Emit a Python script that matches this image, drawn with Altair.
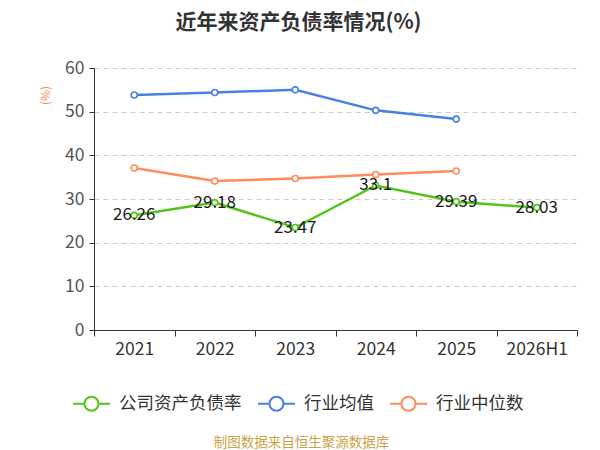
import altair as alt
import pandas as pd

years = ["2021", "2022", "2023", "2024", "2025", "2026H1"]
company = [26.26, 29.18, 23.47, 33.1, 29.39, 28.03]
ind_mean = [53.8, 54.4, 55.0, 50.3, 48.3, None]
ind_median = [37.1, 34.1, 34.7, 35.6, 36.4, None]

series_names = ["公司资产负债率", "行业均值", "行业中位数"]
series_colors = ["#52c41a", "#4a7fe3", "#ff8c5a"]

rows = []
for name, vals in zip(series_names, [company, ind_mean, ind_median]):
    for y, v in zip(years, vals):
        if v is not None:
            rows.append({"year": y, "value": v, "series": name})
df = pd.DataFrame(rows)
df_company = df[df["series"] == series_names[0]].copy()
df_company["label"] = [f"{v:g}" for v in df_company["value"]]

FONT = "Noto Sans CJK SC"
sym_path = ("M-1,0L-0.38,0M0.38,0A0.38,0.38,0,1,1,-0.38,0"
            "A0.38,0.38,0,1,1,0.38,0M0.38,0L1,0")

x_enc = alt.X(
    "year:N",
    sort=years,
    scale=alt.Scale(type="band", domain=years, paddingInner=0, paddingOuter=0),
    axis=alt.Axis(
        title="制图数据来自恒生聚源数据库",
        titleColor="#c9a24a",
        titleFontSize=13.5,
        titleFontWeight="normal",
        titleFont=FONT,
        titleX=207,
        titleY=112,
        titleAlign="center",
        titleBaseline="middle",
        labelAngle=0,
        labelFontSize=17.5,
        labelColor="#333333",
        labelFont=FONT,
        labelPadding=4,
        tickBand="extent",
        tickSize=6,
        tickColor="#333333",
        domainColor="#333333",
        grid=False,
    ),
)
y_enc = alt.Y(
    "value:Q",
    scale=alt.Scale(domain=[0, 60], nice=False),
    axis=alt.Axis(
        title="(%)",
        titleColor="#ff8c5a",
        titleFontSize=12,
        titleFontWeight="normal",
        titleFont=FONT,
        titleX=-49,
        titleY=27,
        titleAlign="center",
        titleBaseline="middle",
        values=[0, 10, 20, 30, 40, 50, 60],
        labelFontSize=17.5,
        labelColor="#555555",
        labelFont=FONT,
        labelPadding=5,
        tickSize=5,
        tickColor="#333333",
        domainColor="#333333",
        grid=True,
        gridDash=[5, 4],
        gridColor="#cccccc",
    ),
)
color_enc = alt.Color(
    "series:N",
    scale=alt.Scale(domain=series_names, range=series_colors),
    legend=alt.Legend(
        title=None,
        orient="none",
        direction="horizontal",
        legendX=-22,
        legendY=316,
        columns=3,
        symbolType=sym_path,
        symbolSize=1369,
        symbolStrokeWidth=2,
        symbolFillColor="white",
        labelFontSize=17.5,
        labelColor="#333333",
        labelFont=FONT,
        labelOffset=8,
        columnPadding=12,
    ),
)

lines = alt.Chart(df).mark_line(strokeWidth=2.5).encode(
    x=x_enc, y=y_enc, color=color_enc
)
points = alt.Chart(df).mark_point(
    filled=True, fill="white", size=36, strokeWidth=1.6, opacity=1
).encode(x=x_enc, y=y_enc, stroke=alt.Stroke("series:N", scale=alt.Scale(domain=series_names, range=series_colors), legend=None))
labels = alt.Chart(df_company).mark_text(
    fontSize=17, color="#1a1a1a", font=FONT, align="center", baseline="middle"
).encode(x=x_enc, y=y_enc, text="label:N")

chart = alt.layer(lines, points, labels).properties(
    width=483,
    height=262,
    autosize=alt.AutoSizeParams(type="none"),
    padding={"left": 86, "top": 60, "right": 15, "bottom": 120},
    title=alt.TitleParams(
        "近年来资产负债率情况(%)",
        fontSize=21,
        fontWeight="bold",
        font=FONT,
        color="#333333",
        anchor="middle",
        dx=-37,
        offset=26,
    ),
).configure_view(stroke=None)

chart.save("out.html", embed_options={"renderer": "svg", "actions": False})
